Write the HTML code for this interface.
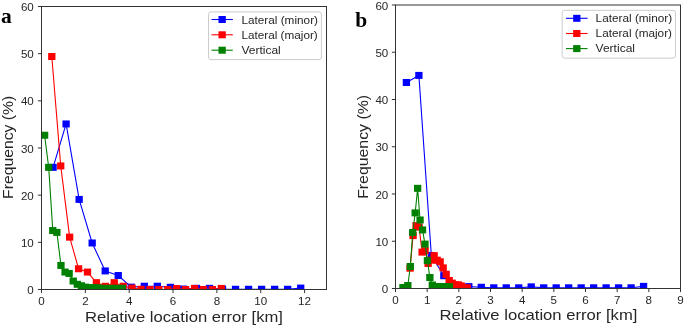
<!DOCTYPE html>
<html><head><meta charset="utf-8"><style>
html,body{margin:0;padding:0;background:#fff;width:685px;height:326px;overflow:hidden;}
svg{display:block;will-change:transform;}

</style></head><body>
<svg width="685" height="326" viewBox="0 0 685 326">
<rect width="685" height="326" fill="#fff"/>
<defs><clipPath id="ca"><rect x="41.5" y="6.5" width="285.0" height="283.0"/></clipPath></defs>
<g clip-path="url(#ca)">
<path d="M53.08,167.34 L66.11,123.94 L79.14,199.41 L92.18,242.99 L105.21,270.92 L118.24,275.49 L131.28,287.14 L144.31,286.20 L157.34,286.20 L170.37,287.28 L183.41,289.03 L196.44,288.32 L209.47,288.32 L222.51,289.03 L235.54,289.26 L248.57,289.26 L261.61,289.26 L274.64,289.26 L287.67,289.26 L300.71,288.08" fill="none" stroke="#0000ff" stroke-width="1.1" stroke-linejoin="round"/>
<rect x="49.43" y="163.84" width="7.3" height="7.0" fill="#0000ff"/>
<rect x="62.46" y="120.44" width="7.3" height="7.0" fill="#0000ff"/>
<rect x="75.49" y="195.91" width="7.3" height="7.0" fill="#0000ff"/>
<rect x="88.53" y="239.49" width="7.3" height="7.0" fill="#0000ff"/>
<rect x="101.56" y="267.42" width="7.3" height="7.0" fill="#0000ff"/>
<rect x="114.59" y="271.99" width="7.3" height="7.0" fill="#0000ff"/>
<rect x="127.63" y="283.64" width="7.3" height="7.0" fill="#0000ff"/>
<rect x="140.66" y="282.70" width="7.3" height="7.0" fill="#0000ff"/>
<rect x="153.69" y="282.70" width="7.3" height="7.0" fill="#0000ff"/>
<rect x="166.72" y="283.78" width="7.3" height="7.0" fill="#0000ff"/>
<rect x="179.76" y="285.53" width="7.3" height="7.0" fill="#0000ff"/>
<rect x="192.79" y="284.82" width="7.3" height="7.0" fill="#0000ff"/>
<rect x="205.82" y="284.82" width="7.3" height="7.0" fill="#0000ff"/>
<rect x="218.86" y="285.53" width="7.3" height="7.0" fill="#0000ff"/>
<rect x="231.89" y="285.76" width="7.3" height="7.0" fill="#0000ff"/>
<rect x="244.92" y="285.76" width="7.3" height="7.0" fill="#0000ff"/>
<rect x="257.96" y="285.76" width="7.3" height="7.0" fill="#0000ff"/>
<rect x="270.99" y="285.76" width="7.3" height="7.0" fill="#0000ff"/>
<rect x="284.02" y="285.76" width="7.3" height="7.0" fill="#0000ff"/>
<rect x="297.06" y="284.58" width="7.3" height="7.0" fill="#0000ff"/>
<path d="M51.80,56.50 L60.73,165.92 L69.65,237.15 L78.57,268.75 L87.49,272.05 L96.42,282.66 L105.34,286.29 L114.26,282.66 L123.19,286.20 L132.11,288.08 L141.03,289.26 L149.95,289.50 L158.88,289.50 L167.80,289.50 L176.72,288.56 L185.64,289.50 L194.57,288.42 L203.49,289.50 L212.41,289.50 L221.34,288.42" fill="none" stroke="#ff0000" stroke-width="1.1" stroke-linejoin="round"/>
<rect x="48.15" y="53.00" width="7.3" height="7.0" fill="#ff0000"/>
<rect x="57.08" y="162.42" width="7.3" height="7.0" fill="#ff0000"/>
<rect x="66.00" y="233.65" width="7.3" height="7.0" fill="#ff0000"/>
<rect x="74.92" y="265.25" width="7.3" height="7.0" fill="#ff0000"/>
<rect x="83.84" y="268.55" width="7.3" height="7.0" fill="#ff0000"/>
<rect x="92.77" y="279.16" width="7.3" height="7.0" fill="#ff0000"/>
<rect x="101.69" y="282.79" width="7.3" height="7.0" fill="#ff0000"/>
<rect x="110.61" y="279.16" width="7.3" height="7.0" fill="#ff0000"/>
<rect x="119.54" y="282.70" width="7.3" height="7.0" fill="#ff0000"/>
<rect x="128.46" y="284.58" width="7.3" height="7.0" fill="#ff0000"/>
<rect x="137.38" y="285.76" width="7.3" height="7.0" fill="#ff0000"/>
<rect x="146.30" y="286.00" width="7.3" height="7.0" fill="#ff0000"/>
<rect x="155.23" y="286.00" width="7.3" height="7.0" fill="#ff0000"/>
<rect x="164.15" y="286.00" width="7.3" height="7.0" fill="#ff0000"/>
<rect x="173.07" y="285.06" width="7.3" height="7.0" fill="#ff0000"/>
<rect x="181.99" y="286.00" width="7.3" height="7.0" fill="#ff0000"/>
<rect x="190.92" y="284.92" width="7.3" height="7.0" fill="#ff0000"/>
<rect x="199.84" y="286.00" width="7.3" height="7.0" fill="#ff0000"/>
<rect x="208.76" y="286.00" width="7.3" height="7.0" fill="#ff0000"/>
<rect x="217.69" y="284.92" width="7.3" height="7.0" fill="#ff0000"/>
<path d="M44.61,135.26 L48.70,167.34 L52.79,230.54 L56.88,232.43 L60.97,265.44 L65.06,272.05 L69.14,273.46 L73.23,281.01 L77.32,284.31 L81.41,285.73 L85.50,287.14 L89.59,287.61 L93.68,287.61 L97.77,287.85 L101.85,288.32 L105.94,288.32 L110.03,288.32 L114.12,288.32 L118.21,288.32 L122.30,288.32" fill="none" stroke="#008000" stroke-width="1.1" stroke-linejoin="round"/>
<rect x="40.96" y="131.76" width="7.3" height="7.0" fill="#008000"/>
<rect x="45.05" y="163.84" width="7.3" height="7.0" fill="#008000"/>
<rect x="49.14" y="227.04" width="7.3" height="7.0" fill="#008000"/>
<rect x="53.23" y="228.93" width="7.3" height="7.0" fill="#008000"/>
<rect x="57.32" y="261.94" width="7.3" height="7.0" fill="#008000"/>
<rect x="61.41" y="268.55" width="7.3" height="7.0" fill="#008000"/>
<rect x="65.49" y="269.96" width="7.3" height="7.0" fill="#008000"/>
<rect x="69.58" y="277.51" width="7.3" height="7.0" fill="#008000"/>
<rect x="73.67" y="280.81" width="7.3" height="7.0" fill="#008000"/>
<rect x="77.76" y="282.23" width="7.3" height="7.0" fill="#008000"/>
<rect x="81.85" y="283.64" width="7.3" height="7.0" fill="#008000"/>
<rect x="85.94" y="284.11" width="7.3" height="7.0" fill="#008000"/>
<rect x="90.03" y="284.11" width="7.3" height="7.0" fill="#008000"/>
<rect x="94.12" y="284.35" width="7.3" height="7.0" fill="#008000"/>
<rect x="98.20" y="284.82" width="7.3" height="7.0" fill="#008000"/>
<rect x="102.29" y="284.82" width="7.3" height="7.0" fill="#008000"/>
<rect x="106.38" y="284.82" width="7.3" height="7.0" fill="#008000"/>
<rect x="110.47" y="284.82" width="7.3" height="7.0" fill="#008000"/>
<rect x="114.56" y="284.82" width="7.3" height="7.0" fill="#008000"/>
<rect x="118.65" y="284.82" width="7.3" height="7.0" fill="#008000"/>
</g>
<rect x="41.5" y="6.5" width="285.0" height="283.0" fill="none" stroke="#333" stroke-width="1.0"/>
<path d="M41.50,289.50v3.6 M85.35,289.50v3.6 M129.19,289.50v3.6 M173.04,289.50v3.6 M216.88,289.50v3.6 M260.73,289.50v3.6 M304.58,289.50v3.6 M41.50,289.50h-3.6 M41.50,242.33h-3.6 M41.50,195.17h-3.6 M41.50,148.00h-3.6 M41.50,100.83h-3.6 M41.50,53.67h-3.6 M41.50,6.50h-3.6" stroke="#333" stroke-width="1.0" fill="none"/>
<g font-family="Liberation Sans, sans-serif" font-size="10.4" fill="#262626">
<text x="41.50" y="304.60" text-anchor="middle" textLength="6.45" lengthAdjust="spacingAndGlyphs">0</text>
<text x="85.35" y="304.60" text-anchor="middle" textLength="6.45" lengthAdjust="spacingAndGlyphs">2</text>
<text x="129.19" y="304.60" text-anchor="middle" textLength="6.45" lengthAdjust="spacingAndGlyphs">4</text>
<text x="173.04" y="304.60" text-anchor="middle" textLength="6.45" lengthAdjust="spacingAndGlyphs">6</text>
<text x="216.88" y="304.60" text-anchor="middle" textLength="6.45" lengthAdjust="spacingAndGlyphs">8</text>
<text x="260.73" y="304.60" text-anchor="middle" textLength="12.90" lengthAdjust="spacingAndGlyphs">10</text>
<text x="304.58" y="304.60" text-anchor="middle" textLength="12.90" lengthAdjust="spacingAndGlyphs">12</text>
<text x="33.80" y="294.00" text-anchor="end" textLength="6.45" lengthAdjust="spacingAndGlyphs">0</text>
<text x="33.80" y="246.83" text-anchor="end" textLength="12.90" lengthAdjust="spacingAndGlyphs">10</text>
<text x="33.80" y="199.67" text-anchor="end" textLength="12.90" lengthAdjust="spacingAndGlyphs">20</text>
<text x="33.80" y="152.50" text-anchor="end" textLength="12.90" lengthAdjust="spacingAndGlyphs">30</text>
<text x="33.80" y="105.33" text-anchor="end" textLength="12.90" lengthAdjust="spacingAndGlyphs">40</text>
<text x="33.80" y="58.17" text-anchor="end" textLength="12.90" lengthAdjust="spacingAndGlyphs">50</text>
<text x="33.80" y="11.00" text-anchor="end" textLength="12.90" lengthAdjust="spacingAndGlyphs">60</text>
</g>
<rect x="208.5" y="11.9" width="112.89999999999998" height="47.7" rx="2.5" fill="#fff" fill-opacity="0.8" stroke="#cccccc" stroke-width="1"/>
<path d="M211.5,19.5H232.8" stroke="#0000ff" stroke-width="1.1"/>
<rect x="218.50" y="16.00" width="7.3" height="7.0" fill="#0000ff"/>
<text x="241.4" y="23.60" font-family="Liberation Sans, sans-serif" font-size="10.6" fill="#262626" textLength="76.6" lengthAdjust="spacingAndGlyphs">Lateral (minor)</text>
<path d="M211.5,34.8H232.8" stroke="#ff0000" stroke-width="1.1"/>
<rect x="218.50" y="31.30" width="7.3" height="7.0" fill="#ff0000"/>
<text x="241.4" y="38.90" font-family="Liberation Sans, sans-serif" font-size="10.6" fill="#262626" textLength="76.4" lengthAdjust="spacingAndGlyphs">Lateral (major)</text>
<path d="M211.5,50.2H232.8" stroke="#008000" stroke-width="1.1"/>
<rect x="218.50" y="46.70" width="7.3" height="7.0" fill="#008000"/>
<text x="241.4" y="54.30" font-family="Liberation Sans, sans-serif" font-size="10.6" fill="#262626" textLength="39.4" lengthAdjust="spacingAndGlyphs">Vertical</text>
<text x="184.00" y="321.8" text-anchor="middle" font-family="Liberation Sans, sans-serif" font-size="15.0" fill="#262626" textLength="197.9" lengthAdjust="spacingAndGlyphs">Relative location error [km]</text>
<defs><clipPath id="cb"><rect x="395.5" y="5.0" width="285.0" height="283.5"/></clipPath></defs>
<g clip-path="url(#cb)">
<path d="M406.39,82.49 L418.88,75.40 L431.36,255.43 L443.84,275.74 L456.33,286.14 L468.81,286.61 L481.29,287.27 L493.77,287.79 L506.26,287.79 L518.74,287.79 L531.22,286.85 L543.71,287.79 L556.19,287.79 L568.67,287.79 L581.16,287.79 L593.64,287.79 L606.12,287.79 L618.60,287.79 L631.09,287.79 L643.57,286.37" fill="none" stroke="#0000ff" stroke-width="1.1" stroke-linejoin="round"/>
<rect x="402.74" y="78.99" width="7.3" height="7.0" fill="#0000ff"/>
<rect x="415.23" y="71.90" width="7.3" height="7.0" fill="#0000ff"/>
<rect x="427.71" y="251.93" width="7.3" height="7.0" fill="#0000ff"/>
<rect x="440.19" y="272.24" width="7.3" height="7.0" fill="#0000ff"/>
<rect x="452.68" y="282.64" width="7.3" height="7.0" fill="#0000ff"/>
<rect x="465.16" y="283.11" width="7.3" height="7.0" fill="#0000ff"/>
<rect x="477.64" y="283.77" width="7.3" height="7.0" fill="#0000ff"/>
<rect x="490.12" y="284.29" width="7.3" height="7.0" fill="#0000ff"/>
<rect x="502.61" y="284.29" width="7.3" height="7.0" fill="#0000ff"/>
<rect x="515.09" y="284.29" width="7.3" height="7.0" fill="#0000ff"/>
<rect x="527.57" y="283.35" width="7.3" height="7.0" fill="#0000ff"/>
<rect x="540.06" y="284.29" width="7.3" height="7.0" fill="#0000ff"/>
<rect x="552.54" y="284.29" width="7.3" height="7.0" fill="#0000ff"/>
<rect x="565.02" y="284.29" width="7.3" height="7.0" fill="#0000ff"/>
<rect x="577.51" y="284.29" width="7.3" height="7.0" fill="#0000ff"/>
<rect x="589.99" y="284.29" width="7.3" height="7.0" fill="#0000ff"/>
<rect x="602.47" y="284.29" width="7.3" height="7.0" fill="#0000ff"/>
<rect x="614.95" y="284.29" width="7.3" height="7.0" fill="#0000ff"/>
<rect x="627.44" y="284.29" width="7.3" height="7.0" fill="#0000ff"/>
<rect x="639.92" y="282.87" width="7.3" height="7.0" fill="#0000ff"/>
<path d="M410.07,268.18 L413.07,235.58 L416.08,225.66 L419.09,227.07 L422.10,252.12 L425.11,250.70 L428.12,263.46 L431.12,260.15 L434.13,255.61 L437.14,260.15 L440.15,261.76 L443.16,267.85 L446.17,274.23 L449.18,280.47 L452.18,283.11 L455.19,284.77 L458.20,284.77 L461.21,285.85 L464.22,287.74 L467.23,287.74" fill="none" stroke="#ff0000" stroke-width="1.1" stroke-linejoin="round"/>
<rect x="406.42" y="264.68" width="7.3" height="7.0" fill="#ff0000"/>
<rect x="409.43" y="232.08" width="7.3" height="7.0" fill="#ff0000"/>
<rect x="412.43" y="222.16" width="7.3" height="7.0" fill="#ff0000"/>
<rect x="415.44" y="223.57" width="7.3" height="7.0" fill="#ff0000"/>
<rect x="418.45" y="248.62" width="7.3" height="7.0" fill="#ff0000"/>
<rect x="421.46" y="247.20" width="7.3" height="7.0" fill="#ff0000"/>
<rect x="424.47" y="259.96" width="7.3" height="7.0" fill="#ff0000"/>
<rect x="427.48" y="256.65" width="7.3" height="7.0" fill="#ff0000"/>
<rect x="430.48" y="252.11" width="7.3" height="7.0" fill="#ff0000"/>
<rect x="433.49" y="256.65" width="7.3" height="7.0" fill="#ff0000"/>
<rect x="436.50" y="258.26" width="7.3" height="7.0" fill="#ff0000"/>
<rect x="439.51" y="264.35" width="7.3" height="7.0" fill="#ff0000"/>
<rect x="442.52" y="270.73" width="7.3" height="7.0" fill="#ff0000"/>
<rect x="445.53" y="276.97" width="7.3" height="7.0" fill="#ff0000"/>
<rect x="448.53" y="279.61" width="7.3" height="7.0" fill="#ff0000"/>
<rect x="451.54" y="281.27" width="7.3" height="7.0" fill="#ff0000"/>
<rect x="454.55" y="281.27" width="7.3" height="7.0" fill="#ff0000"/>
<rect x="457.56" y="282.35" width="7.3" height="7.0" fill="#ff0000"/>
<rect x="460.57" y="284.24" width="7.3" height="7.0" fill="#ff0000"/>
<rect x="463.58" y="284.24" width="7.3" height="7.0" fill="#ff0000"/>
<path d="M402.94,287.56 L405.39,287.56 L407.84,285.52 L410.29,266.48 L412.73,232.51 L415.18,212.90 L417.63,188.33 L420.08,219.99 L422.52,229.91 L424.97,244.09 L427.42,260.62 L429.87,277.49 L432.32,285.00 L434.76,286.70 L437.21,286.70 L439.66,286.70 L442.11,286.70 L444.55,286.70 L447.00,286.70 L449.45,286.70" fill="none" stroke="#008000" stroke-width="1.1" stroke-linejoin="round"/>
<rect x="399.29" y="284.06" width="7.3" height="7.0" fill="#008000"/>
<rect x="401.74" y="284.06" width="7.3" height="7.0" fill="#008000"/>
<rect x="404.19" y="282.02" width="7.3" height="7.0" fill="#008000"/>
<rect x="406.64" y="262.98" width="7.3" height="7.0" fill="#008000"/>
<rect x="409.08" y="229.01" width="7.3" height="7.0" fill="#008000"/>
<rect x="411.53" y="209.40" width="7.3" height="7.0" fill="#008000"/>
<rect x="413.98" y="184.83" width="7.3" height="7.0" fill="#008000"/>
<rect x="416.43" y="216.49" width="7.3" height="7.0" fill="#008000"/>
<rect x="418.87" y="226.41" width="7.3" height="7.0" fill="#008000"/>
<rect x="421.32" y="240.59" width="7.3" height="7.0" fill="#008000"/>
<rect x="423.77" y="257.12" width="7.3" height="7.0" fill="#008000"/>
<rect x="426.22" y="273.99" width="7.3" height="7.0" fill="#008000"/>
<rect x="428.67" y="281.50" width="7.3" height="7.0" fill="#008000"/>
<rect x="431.11" y="283.20" width="7.3" height="7.0" fill="#008000"/>
<rect x="433.56" y="283.20" width="7.3" height="7.0" fill="#008000"/>
<rect x="436.01" y="283.20" width="7.3" height="7.0" fill="#008000"/>
<rect x="438.46" y="283.20" width="7.3" height="7.0" fill="#008000"/>
<rect x="440.90" y="283.20" width="7.3" height="7.0" fill="#008000"/>
<rect x="443.35" y="283.20" width="7.3" height="7.0" fill="#008000"/>
<rect x="445.80" y="283.20" width="7.3" height="7.0" fill="#008000"/>
</g>
<rect x="395.5" y="5.0" width="285.0" height="283.5" fill="none" stroke="#333" stroke-width="1.0"/>
<path d="M395.50,288.50v3.6 M427.17,288.50v3.6 M458.83,288.50v3.6 M490.50,288.50v3.6 M522.17,288.50v3.6 M553.83,288.50v3.6 M585.50,288.50v3.6 M617.17,288.50v3.6 M648.83,288.50v3.6 M680.50,288.50v3.6 M395.50,288.50h-3.6 M395.50,241.25h-3.6 M395.50,194.00h-3.6 M395.50,146.75h-3.6 M395.50,99.50h-3.6 M395.50,52.25h-3.6 M395.50,5.00h-3.6" stroke="#333" stroke-width="1.0" fill="none"/>
<g font-family="Liberation Sans, sans-serif" font-size="10.4" fill="#262626">
<text x="395.50" y="303.60" text-anchor="middle" textLength="6.45" lengthAdjust="spacingAndGlyphs">0</text>
<text x="427.17" y="303.60" text-anchor="middle" textLength="6.45" lengthAdjust="spacingAndGlyphs">1</text>
<text x="458.83" y="303.60" text-anchor="middle" textLength="6.45" lengthAdjust="spacingAndGlyphs">2</text>
<text x="490.50" y="303.60" text-anchor="middle" textLength="6.45" lengthAdjust="spacingAndGlyphs">3</text>
<text x="522.17" y="303.60" text-anchor="middle" textLength="6.45" lengthAdjust="spacingAndGlyphs">4</text>
<text x="553.83" y="303.60" text-anchor="middle" textLength="6.45" lengthAdjust="spacingAndGlyphs">5</text>
<text x="585.50" y="303.60" text-anchor="middle" textLength="6.45" lengthAdjust="spacingAndGlyphs">6</text>
<text x="617.17" y="303.60" text-anchor="middle" textLength="6.45" lengthAdjust="spacingAndGlyphs">7</text>
<text x="648.83" y="303.60" text-anchor="middle" textLength="6.45" lengthAdjust="spacingAndGlyphs">8</text>
<text x="680.50" y="303.60" text-anchor="middle" textLength="6.45" lengthAdjust="spacingAndGlyphs">9</text>
<text x="388.30" y="293.00" text-anchor="end" textLength="6.45" lengthAdjust="spacingAndGlyphs">0</text>
<text x="388.30" y="245.75" text-anchor="end" textLength="12.90" lengthAdjust="spacingAndGlyphs">10</text>
<text x="388.30" y="198.50" text-anchor="end" textLength="12.90" lengthAdjust="spacingAndGlyphs">20</text>
<text x="388.30" y="151.25" text-anchor="end" textLength="12.90" lengthAdjust="spacingAndGlyphs">30</text>
<text x="388.30" y="104.00" text-anchor="end" textLength="12.90" lengthAdjust="spacingAndGlyphs">40</text>
<text x="388.30" y="56.75" text-anchor="end" textLength="12.90" lengthAdjust="spacingAndGlyphs">50</text>
<text x="388.30" y="9.50" text-anchor="end" textLength="12.90" lengthAdjust="spacingAndGlyphs">60</text>
</g>
<rect x="562.2" y="10.3" width="113.29999999999995" height="47.8" rx="2.5" fill="#fff" fill-opacity="0.8" stroke="#cccccc" stroke-width="1"/>
<path d="M566.0,18.3H587.6" stroke="#0000ff" stroke-width="1.1"/>
<rect x="573.15" y="14.80" width="7.3" height="7.0" fill="#0000ff"/>
<text x="595.6" y="22.40" font-family="Liberation Sans, sans-serif" font-size="10.6" fill="#262626" textLength="76.6" lengthAdjust="spacingAndGlyphs">Lateral (minor)</text>
<path d="M566.0,33.5H587.6" stroke="#ff0000" stroke-width="1.1"/>
<rect x="573.15" y="30.00" width="7.3" height="7.0" fill="#ff0000"/>
<text x="595.6" y="37.00" font-family="Liberation Sans, sans-serif" font-size="10.6" fill="#262626" textLength="76.4" lengthAdjust="spacingAndGlyphs">Lateral (major)</text>
<path d="M566.0,48.6H587.6" stroke="#008000" stroke-width="1.1"/>
<rect x="573.15" y="45.10" width="7.3" height="7.0" fill="#008000"/>
<text x="595.6" y="52.00" font-family="Liberation Sans, sans-serif" font-size="10.6" fill="#262626" textLength="39.4" lengthAdjust="spacingAndGlyphs">Vertical</text>
<text x="538.45" y="320.3" text-anchor="middle" font-family="Liberation Sans, sans-serif" font-size="15.0" fill="#262626" textLength="197.9" lengthAdjust="spacingAndGlyphs">Relative location error [km]</text>
<text transform="translate(13.3,147.3) rotate(-90)" text-anchor="middle" font-family="Liberation Sans, sans-serif" font-size="15.0" fill="#262626" textLength="103.3" lengthAdjust="spacingAndGlyphs">Frequency (%)</text>
<text transform="translate(367.9,146.9) rotate(-90)" text-anchor="middle" font-family="Liberation Sans, sans-serif" font-size="15.0" fill="#262626" textLength="103.9" lengthAdjust="spacingAndGlyphs">Frequency (%)</text>
<text x="1.0" y="22.9" font-family="Liberation Serif, serif" font-weight="bold" font-size="21.5" fill="#000">a</text>
<text x="355.3" y="27.0" font-family="Liberation Serif, serif" font-weight="bold" font-size="21.5" fill="#000">b</text>
</svg>
</body></html>
